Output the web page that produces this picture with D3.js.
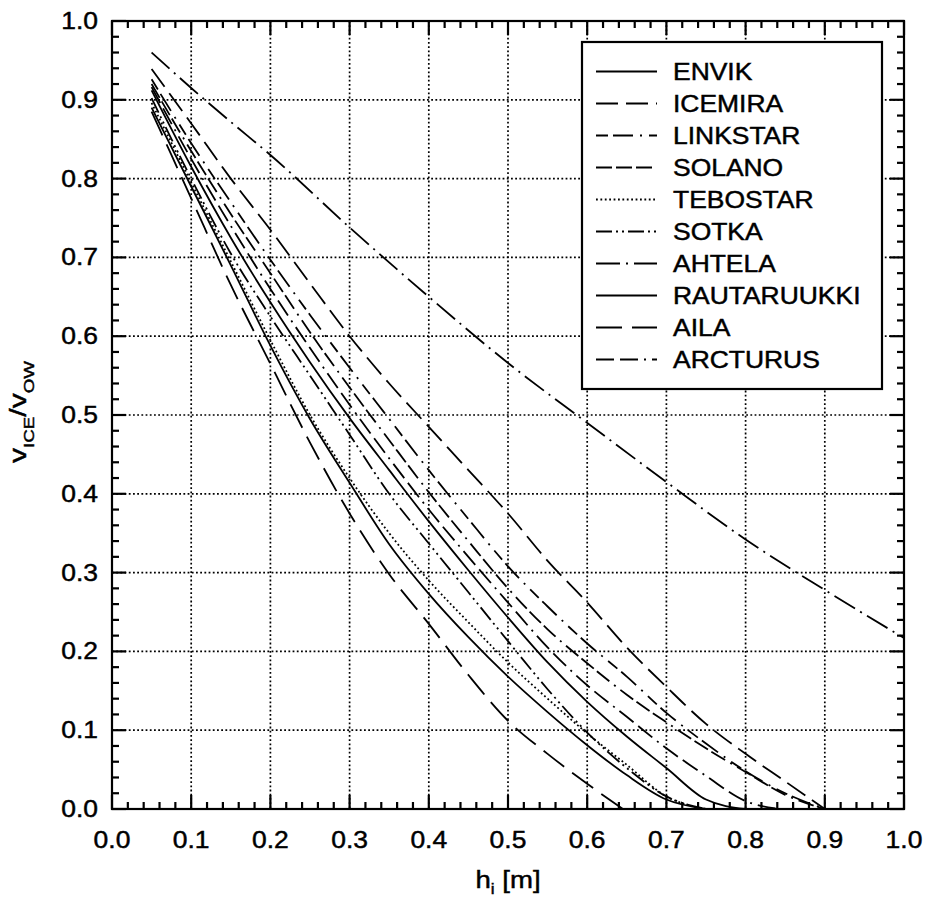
<!DOCTYPE html>
<html>
<head>
<meta charset="utf-8">
<script src="https://cdn.jsdelivr.net/npm/d3@7"></script>
<style>
  html, body { margin: 0; padding: 0; background: #fff; }
  svg { display: block; font-family: "Liberation Sans", Arial, Helvetica, sans-serif; }
  .lbl { fill: #000; stroke: #000; stroke-width: 0.45px; }
</style>
</head>
<body>
<svg id="chart" width="928" height="911"></svg>
<script>
// Relative speed in ice v_ICE / v_OW against level ice thickness h_i [m]
const shipNames = ["ENVIK", "ICEMIRA", "LINKSTAR", "SOLANO", "TEBOSTAR",
                   "SOTKA", "AHTELA", "RAUTARUUKKI", "AILA", "ARCTURUS"];

const envik = [[0.05,0.89],[0.10,0.79],[0.15,0.69],[0.20,0.588],[0.25,0.495],[0.30,0.414],
  [0.35,0.336],[0.40,0.273],[0.45,0.218],[0.50,0.168],[0.55,0.123],[0.60,0.081],
  [0.65,0.043],[0.70,0.012],[0.75,0]];
const icemira = [[0.05,0.939],[0.10,0.87],[0.15,0.80],[0.20,0.735],[0.25,0.667],[0.30,0.60],
  [0.35,0.54],[0.40,0.485],[0.45,0.43],[0.50,0.375],[0.55,0.315],[0.60,0.262],
  [0.65,0.205],[0.70,0.155],[0.75,0.108],[0.80,0.07],[0.85,0.035],[0.90,0]];
const linkstar = [[0.05,0.926],[0.10,0.845],[0.15,0.77],[0.20,0.697],[0.25,0.627],[0.30,0.56],
  [0.35,0.495],[0.40,0.43],[0.45,0.368],[0.50,0.308],[0.55,0.257],[0.60,0.21],
  [0.65,0.168],[0.70,0.122],[0.75,0.083],[0.80,0.048],[0.85,0.02],[0.90,0]];
const solano = [[0.05,0.92],[0.10,0.835],[0.15,0.755],[0.20,0.68],[0.25,0.605],[0.30,0.535],
  [0.35,0.468],[0.40,0.402],[0.45,0.34],[0.50,0.28],[0.55,0.228],[0.60,0.185],
  [0.65,0.145],[0.70,0.11],[0.75,0.077],[0.80,0.047],[0.85,0.018],[0.90,0]];
const tebostar = [[0.05,0.896],[0.10,0.795],[0.15,0.695],[0.20,0.595],[0.25,0.50],[0.30,0.42],
  [0.35,0.35],[0.40,0.29],[0.45,0.237],[0.50,0.186],[0.55,0.14],[0.60,0.096],
  [0.65,0.056],[0.70,0.016],[0.75,0]];
const sotka = [[0.05,0.902],[0.10,0.80],[0.15,0.705],[0.20,0.625],[0.25,0.55],[0.30,0.475],
  [0.35,0.40],[0.40,0.337],[0.45,0.275],[0.50,0.213],[0.55,0.152],[0.60,0.097],
  [0.65,0.052],[0.70,0.016],[0.75,0]];
const ahtela = [[0.05,0.96],[0.10,0.915],[0.15,0.872],[0.20,0.83],[0.30,0.738],[0.40,0.65],
  [0.50,0.566],[0.60,0.49],[0.70,0.415],[0.80,0.342],[0.90,0.278],[1.00,0.217]];
const rautaruukki = [[0.05,0.912],[0.10,0.815],[0.15,0.725],[0.20,0.643],[0.25,0.567],[0.30,0.496],
  [0.35,0.43],[0.40,0.365],[0.45,0.303],[0.50,0.243],[0.55,0.186],[0.60,0.136],
  [0.65,0.092],[0.70,0.052],[0.75,0.012],[0.80,0]];
const aila = [[0.05,0.885],[0.075,0.83],[0.10,0.775],[0.15,0.665],[0.20,0.565],[0.25,0.465],
  [0.30,0.375],[0.35,0.298],[0.40,0.235],[0.45,0.17],[0.50,0.112],[0.55,0.07],
  [0.60,0.032],[0.645,0]];
const arcturus = [[0.05,0.916],[0.10,0.825],[0.15,0.74],[0.20,0.66],[0.25,0.585],[0.30,0.513],
  [0.35,0.445],[0.40,0.38],[0.45,0.32],[0.50,0.262],[0.55,0.205],[0.60,0.157],
  [0.65,0.117],[0.70,0.077],[0.75,0.042],[0.80,0.01],[0.845,0]];

const seriesData = [envik, icemira, linkstar, solano, tebostar, sotka, ahtela, rautaruukki, aila, arcturus];
const dashPatterns = ["none", "22,8", "12,5,20,7,2,7", "16,4,16,4,16,6,2,6", "1.8,2.6",
                      "16,4,2,4,2,4", "24,6,2,6", "none", "26,10", "18,6,18,6,2,6"];

const xTicks = [0.0,0.1,0.2,0.3,0.4,0.5,0.6,0.7,0.8,0.9,1.0];
const yTicks = [0.0,0.1,0.2,0.3,0.4,0.5,0.6,0.7,0.8,0.9,1.0];
const minorTicks = d3.range(1, 50).filter(i => i % 5 !== 0).map(i => i / 50);

const svg = d3.select("#chart");
const margin = { left: 112, top: 21, right: 24, bottom: 102 };
const W = 928 - margin.left - margin.right;
const H = 911 - margin.top - margin.bottom;
const sx = 1.15;   // horizontal stretch of the lettering

const x = d3.scaleLinear().domain([0, 1]).range([0, W]);
const y = d3.scaleLinear().domain([0, 1]).range([H, 0]);

const g = svg.append("g").attr("transform", `translate(${margin.left},${margin.top})`);

// dotted grid
g.append("g").selectAll("line").data(xTicks.filter(t => t > 0 && t < 1)).join("line")
  .attr("x1", d => x(d)).attr("x2", d => x(d)).attr("y1", 0).attr("y2", H)
  .attr("stroke", "#000").attr("stroke-width", 1.7).attr("stroke-dasharray", "1.8,2.4");
g.append("g").selectAll("line").data(yTicks.filter(t => t > 0 && t < 1)).join("line")
  .attr("y1", d => y(d)).attr("y2", d => y(d)).attr("x1", 0).attr("x2", W)
  .attr("stroke", "#000").attr("stroke-width", 1.7).attr("stroke-dasharray", "1.8,2.4");

// inward ticks on all four sides
const ticks = g.append("g");
[[xTicks, 14], [minorTicks, 7]].forEach(([vals, len]) => {
  const sets = [
    { a: d => [x(d), H, x(d), H - len] },
    { a: d => [x(d), 0, x(d), len] },
    { a: d => [0, y(d), len, y(d)] },
    { a: d => [W, y(d), W - len, y(d)] }
  ];
  sets.forEach(s => {
    ticks.append("g").selectAll("line").data(vals).join("line")
      .attr("x1", d => s.a(d)[0]).attr("y1", d => s.a(d)[1])
      .attr("x2", d => s.a(d)[2]).attr("y2", d => s.a(d)[3])
      .attr("stroke", "#000").attr("stroke-width", 2.2);
  });
});

// curves
const line = d3.line().x(d => x(d[0])).y(d => y(d[1])).curve(d3.curveMonotoneX);
g.append("g").selectAll("path").data(seriesData).join("path")
  .attr("d", line)
  .attr("fill", "none").attr("stroke", "#000").attr("stroke-width", 1.8)
  .attr("stroke-dasharray", (d, i) => dashPatterns[i] === "none" ? null : dashPatterns[i]);

// frame
g.append("rect").attr("x", 0).attr("y", 0).attr("width", W).attr("height", H)
  .attr("fill", "none").attr("stroke", "#000").attr("stroke-width", 2.2);

// tick labels
const fmt = d3.format(".1f");
g.append("g").selectAll("text").data(xTicks).join("text").attr("class", "lbl")
  .attr("transform", d => `translate(${x(d)},${H + 39}) scale(${sx},1)`)
  .attr("text-anchor", "middle").attr("font-size", 23).text(fmt);
g.append("g").selectAll("text").data(yTicks).join("text").attr("class", "lbl")
  .attr("transform", d => `translate(-14,${y(d) + 8}) scale(${sx},1)`)
  .attr("text-anchor", "end").attr("font-size", 23).text(fmt);

// axis titles
const xt = svg.append("text").attr("class", "lbl")
  .attr("transform", `translate(${margin.left + W / 2},888) scale(${sx},1)`)
  .attr("text-anchor", "middle").attr("font-size", 24);
xt.append("tspan").text("h");
xt.append("tspan").attr("font-size", 15).attr("dy", 6).text("i");
xt.append("tspan").attr("dy", -6).text(" [m]");

const yt = svg.append("text").attr("class", "lbl")
  .attr("transform", `translate(26,412) rotate(-90) scale(1.25,1)`)
  .attr("text-anchor", "middle").attr("font-size", 24);
yt.append("tspan").text("v");
yt.append("tspan").attr("font-size", 15).attr("dy", 8).text("ICE");
yt.append("tspan").attr("dy", -8).text("/v");
yt.append("tspan").attr("font-size", 15).attr("dy", 8).text("OW");

// legend
const lg = svg.append("g");
lg.append("rect").attr("x", 582).attr("y", 42).attr("width", 300).attr("height", 347)
  .attr("fill", "#fff").attr("stroke", "#000").attr("stroke-width", 2.2);
const rows = lg.selectAll("g.row").data(shipNames).join("g")
  .attr("class", "row").attr("transform", (d, i) => `translate(0,${71.5 + i * 32})`);
rows.append("line").attr("x1", 596).attr("x2", 657).attr("y1", 0).attr("y2", 0)
  .attr("stroke", "#000").attr("stroke-width", 1.8)
  .attr("stroke-dasharray", (d, i) => dashPatterns[i] === "none" ? null : dashPatterns[i]);
rows.append("text").attr("class", "lbl").attr("transform", `translate(673,8.5) scale(${sx},1)`)
  .attr("font-size", 23).text(d => d);
</script>
</body>
</html>
